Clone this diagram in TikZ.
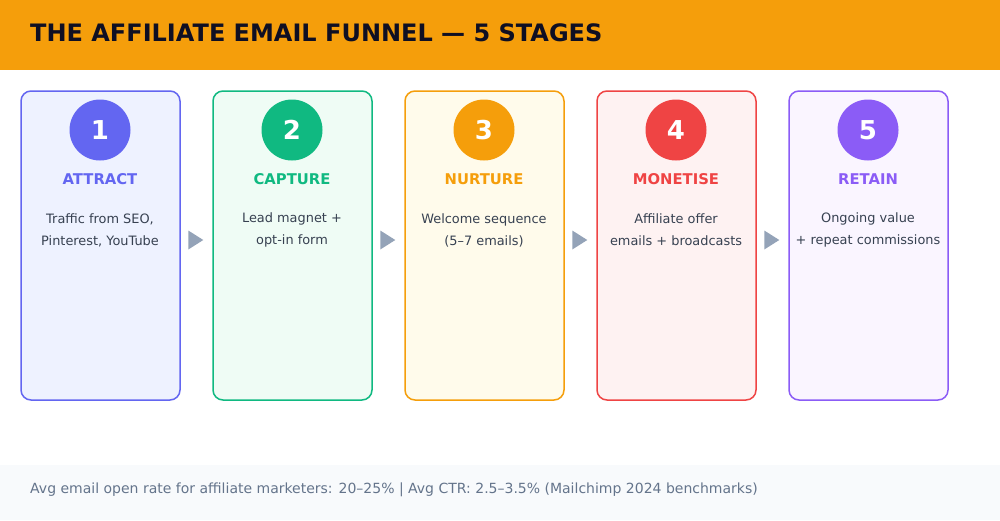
\documentclass[tikz,border=0pt]{standalone}
\usepackage{fontspec}
\setmainfont{DejaVu Sans}
\definecolor{HeadAmber}{HTML}{F59E0B}
\definecolor{TitleInk}{HTML}{0F0F23}
\definecolor{BodyInk}{HTML}{374151}
\definecolor{FootInk}{HTML}{64748B}
\definecolor{FootBg}{HTML}{F8FAFC}
\definecolor{ArrowGrey}{HTML}{94A3B8}
\definecolor{StageIndigo}{HTML}{6366F1}
\definecolor{StageGreen}{HTML}{10B981}
\definecolor{StageAmber}{HTML}{F59E0B}
\definecolor{StageRed}{HTML}{EF4444}
\definecolor{StageViolet}{HTML}{8B5CF6}
\definecolor{TintIndigo}{HTML}{EEF2FF}
\definecolor{TintGreen}{HTML}{EFFCF5}
\definecolor{TintAmber}{HTML}{FFFBEB}
\definecolor{TintRed}{HTML}{FEF2F2}
\definecolor{TintViolet}{HTML}{FAF5FF}
\usetikzlibrary{shapes.geometric}

\tikzset{
  card/.style 2 args={draw=#1,fill=#2,line width=1.5pt,rounded corners=10pt,minimum width=159pt,minimum height=309pt,inner sep=0pt},
  badge/.style={circle,fill=#1,minimum size=61pt,inner sep=0pt,text=white,font=\fontsize{26}{30}\selectfont\bfseries},
  stagename/.style={text=#1,font=\fontsize{14.8}{16}\selectfont\bfseries},
  stagetext/.style={align=center,text=BodyInk,font=\fontsize{12.9}{22}\selectfont},
  flowtip/.style={isosceles triangle,isosceles triangle stretches,fill=ArrowGrey,minimum height=15pt,minimum width=19pt,inner sep=0pt}
}

\begin{document}
\begin{tikzpicture}[x=1pt,y=-1pt]
\useasboundingbox (0,0) rectangle (1000,520);
\fill[white] (0,0) rectangle (1000,520);
% header and footer bands
\fill[HeadAmber] (0,0) rectangle (1000,70);
\node[anchor=west,text=TitleInk,font=\fontsize{24}{28}\selectfont\bfseries,inner sep=0pt] (title) at (30,33) {THE AFFILIATE EMAIL FUNNEL — 5 STAGES};
\fill[FootBg] (0,465) rectangle (1000,520);
\node[anchor=west,text=FootInk,font=\fontsize{14}{16}\selectfont,inner sep=0pt] (note) at (30,490) {Avg email open rate for affiliate marketers: 20–25\% | Avg CTR: 2.5–3.5\% (Mailchimp 2024 benchmarks)};

% stage 1
\node[card={StageIndigo}{TintIndigo}] (attract) at (100.5,245.5) {};
\node[badge=StageIndigo] (n1) at (100,130) {1};
\node[stagename=StageIndigo] (l1) at (100,179) {ATTRACT};
\node[stagetext] (d1) at (100,230) {Traffic from SEO,\\Pinterest, YouTube};
% stage 2
\node[card={StageGreen}{TintGreen}] (capture) at (292.5,245.5) {};
\node[badge=StageGreen] (n2) at (292,130) {2};
\node[stagename=StageGreen] (l2) at (292,179) {CAPTURE};
\node[stagetext] (d2) at (292,230) {Lead magnet +\\opt-in form};
% stage 3
\node[card={StageAmber}{TintAmber}] (nurture) at (484.5,245.5) {};
\node[badge=StageAmber] (n3) at (484,130) {3};
\node[stagename=StageAmber] (l3) at (484,179) {NURTURE};
\node[stagetext] (d3) at (484,230) {Welcome sequence\\(5–7 emails)};
% stage 4
\node[card={StageRed}{TintRed}] (monetise) at (676.5,245.5) {};
\node[badge=StageRed] (n4) at (676,130) {4};
\node[stagename=StageRed] (l4) at (676,179) {MONETISE};
\node[stagetext] (d4) at (676,230) {Affiliate offer\\emails + broadcasts};
% stage 5
\node[card={StageViolet}{TintViolet}] (retain) at (868.5,245.5) {};
\node[badge=StageViolet] (n5) at (868,130) {5};
\node[stagename=StageViolet] (l5) at (868,179) {RETAIN};
\node[stagetext] (d5) at (868,230) {Ongoing value\\+ repeat commissions};

% arrows between stages
\node[flowtip] (a12) at (193.5,240) {};
\node[flowtip] (a23) at (385.5,240) {};
\node[flowtip] (a34) at (577.5,240) {};
\node[flowtip] (a45) at (769.5,240) {};
\end{tikzpicture}
\end{document}
